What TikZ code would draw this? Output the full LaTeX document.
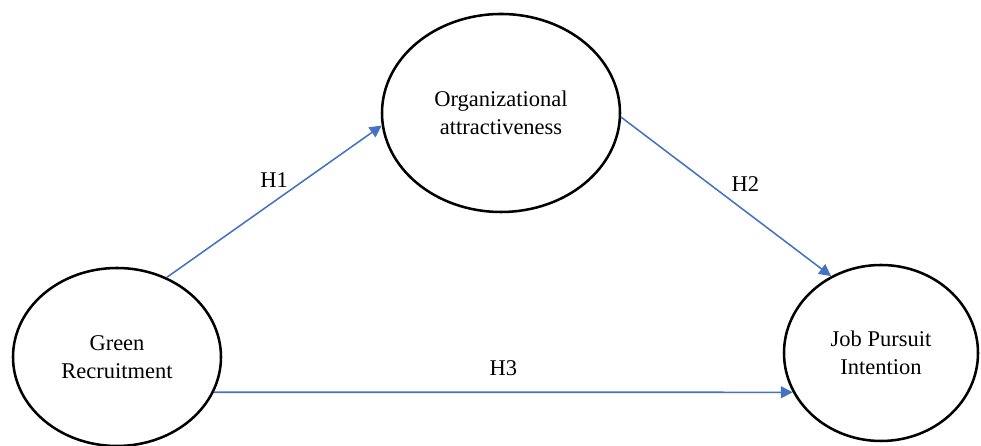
\documentclass[tikz,border=0pt]{standalone}
\usepackage{fontspec}
\setmainfont{Liberation Serif}
\usepackage{xcolor}
\usepackage{tikz}
\usetikzlibrary{shapes,arrows,arrows.meta,positioning}
\definecolor{arrowblue}{RGB}{68,114,196}

\begin{document}
\begin{tikzpicture}[
    node distance=9.6cm,
    construct/.style={ellipse, draw=black, line width=1.8pt, inner sep=0pt, align=center, font=\fontsize{16}{20}\selectfont},
    hyp/.style={font=\fontsize{16}{20}\selectfont},
    arrow/.style={->,>={Triangle[length=8.5pt,width=8.5pt]},line width=1.1pt,draw=arrowblue,fill=arrowblue}
]
\useasboundingbox (-2.925,-2.225) rectangle (21.6,8.925);

% Constructs
\node[construct, minimum width=5.2cm, minimum height=4.45cm] (green) {Green\\Recruitment};
\node[construct, minimum width=5.95cm, minimum height=4.95cm, right of=green, yshift=6.1cm] (attract) {Organizational\\attractiveness};
\node[construct, minimum width=4.85cm, minimum height=4.4cm, right of=attract, xshift=-0.1cm, yshift=-6.0cm] (pursuit) {Job Pursuit\\Intention};

% Hypotheses
\draw[arrow] (green.58) -- (attract.186) node[hyp, midway, above=6pt] (hone) {H1};
\draw[arrow] (attract.358) -- (pursuit.123) node[hyp, midway, above right] (htwo) {H2};
\draw[arrow] (green.-20) -- (pursuit.204) node[hyp, midway, above=8pt] (hthree) {H3};

\end{tikzpicture}
\end{document}
